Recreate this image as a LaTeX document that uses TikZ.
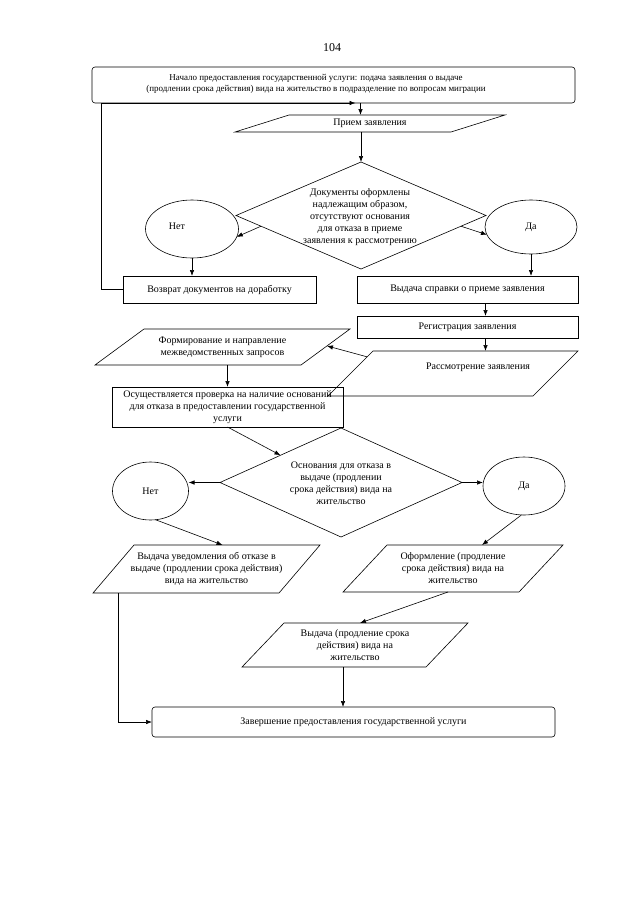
\documentclass[tikz,border=0pt]{standalone}
\usepackage{fontspec}
\setmainfont{Liberation Serif}
\usetikzlibrary{shapes.geometric,arrows.meta,calc}

\tikzset{
  box/.style={draw, rectangle, inner sep=1pt, outer sep=0pt, align=center},
  oval/.style={draw, ellipse, inner sep=0pt, outer sep=0pt},
  rhomb/.style={draw, diamond, inner sep=0pt, outer sep=0pt},
  slab/.style={rectangle, inner sep=0pt, outer sep=0pt, align=center},
  txt/.style={inner sep=0pt, align=center},
  arr/.style={-{Latex[length=6pt,width=4.5pt]}}
}
% parallelogram outline round an undrawn node: #1 name, #2 slant
\newcommand{\slantframe}[2]{\draw ([xshift=#2]#1.north west) -- (#1.north east) -- ([xshift=-#2]#1.south east) -- (#1.south west) -- cycle;}

\begin{document}
\begin{tikzpicture}[x=1pt, y=-1pt, line width=0.6pt, font=\fontsize{10}{12}\selectfont]
  \useasboundingbox (0,0) rectangle (640,905);

  \node[txt] (pagenum) at (332,48) {\fontsize{12}{14}\selectfont 104};

  % start
  \node[box, rounded corners=3pt, minimum width=483, minimum height=36] (start) at (333.5,85) {};
  \node[txt, font=\fontsize{9}{11}\selectfont] (starttxt) at (316,84) {Начало предоставления государственной услуги: подача заявления о выдаче\\(продлении срока действия) вида на жительство в подразделение по вопросам миграции};
  \node[slab, minimum width=270, minimum height=17] (priem) at (370,123.5) {Прием заявления};
  \slantframe{priem}{54}

  % first check
  \node[rhomb, minimum width=250, minimum height=107] (chk1) at (361,215.5) {};
  \node[txt] (chk1txt) at (360,217) {Документы оформлены\\надлежащим образом,\\отсутствуют основания\\для отказа в приеме\\заявления к рассмотрению};
  \node[oval, minimum width=93, minimum height=58] (no1) at (192,229) {};
  \node[txt] (no1txt) at (177,226) {Нет};
  \node[oval, minimum width=92, minimum height=54] (da1) at (531,227) {Да};
  \node[box, minimum width=193, minimum height=27] (ret) at (219.5,289.5) {Возврат документов на доработку};
  \node[box, minimum width=221, minimum height=27] (cert) at (467.5,289.5) {Выдача справки о приеме заявления};
  \node[box, minimum width=221, minimum height=22] (reg) at (467.5,327) {Регистрация заявления};
  \node[slab, minimum width=250, minimum height=45] (review) at (453,373.5) {};
  \slantframe{review}{45}
  \node[txt] (reviewtxt) at (478,367) {Рассмотрение заявления};
  \node[slab, minimum width=255, minimum height=36] (form) at (222.5,347) {Формирование и направление\\межведомственных запросов};
  \slantframe{form}{49}
  \node[box, minimum width=231, minimum height=40] (verify) at (227.5,407) {Осуществляется проверка на наличие оснований\\для отказа в предоставлении государственной\\услуги};

  % second check
  \node[rhomb, minimum width=242, minimum height=109] (chk2) at (341,482.5) {};
  \node[txt] (chk2txt) at (341,483) {Основания для отказа в\\выдаче (продлении\\срока действия) вида на\\жительство};
  \node[oval, minimum width=76, minimum height=58] (no2) at (150.5,491) {Нет};
  \node[oval, minimum width=82, minimum height=58] (da2) at (524,486) {Да};
  \node[slab, minimum width=227, minimum height=48] (notice) at (206.5,569) {Выдача уведомления об отказе в\\выдаче (продлении срока действия)\\вида на жительство};
  \slantframe{notice}{41}
  \node[slab, minimum width=220, minimum height=47] (make) at (453,568.5) {Оформление (продление\\срока действия) вида на\\жительство};
  \slantframe{make}{44}
  \node[slab, minimum width=226, minimum height=44] (issue) at (355,645) {Выдача (продление срока\\действия) вида на\\жительство};
  \slantframe{issue}{42}
  \node[box, rounded corners=3pt, minimum width=403, minimum height=30] (finish) at (353.5,722) {Завершение предоставления государственной услуги};

  % connectors
  \draw[arr] (ret.west) -| ([xshift=9]start.south west) -- ([xshift=22]start.south);
  \draw[arr] ([xshift=27]start.south) -- ([xshift=27]start.south |- priem.north);
  \draw[arr] (priem.south -| chk1.north) -- (chk1.north);
  \draw[arr] ($(chk1.west)!0.2!(chk1.south)$) -- (no1.-10);
  \draw[arr] ($(chk1.east)!0.2!(chk1.south)$) -- (da1.190);
  \draw[arr] (no1.south) -- (no1.south |- ret.north);
  \draw[arr] (da1.south) -- (da1.south |- cert.north);
  \draw[arr] ([xshift=18]cert.south) -- ([xshift=18]reg.north);
  \draw[arr] ([xshift=18]reg.south) -- ([xshift=18]reg.south |- review.north);
  \draw[arr] ($([xshift=45]review.north west)!0.13!(review.south west)$) -- ($(form.north east)!0.47!([xshift=-49]form.south east)$);
  \draw[arr] ([xshift=5]form.south) -- ([xshift=5]form.south |- verify.north);
  \draw[arr] (verify.south) -- ($(chk2.north)!0.5!(chk2.west)$);
  \draw[arr] (chk2.west) -- (chk2.west -| no2.east);
  \draw[arr] (chk2.east) -- (chk2.east -| da2.west);
  \draw[arr] (no2.-80) -- ([xshift=16]notice.north);
  \draw[arr] (da2.-95) -- ([xshift=29]make.north);
  \draw[arr] ([xshift=-5]make.south) -- ([xshift=5]issue.north);
  \draw[arr] ([xshift=-12]issue.south) -- ([xshift=-12]issue.south |- finish.north);
  \draw[arr] ([xshift=25]notice.south west) |- (finish.west);
\end{tikzpicture}
\end{document}
